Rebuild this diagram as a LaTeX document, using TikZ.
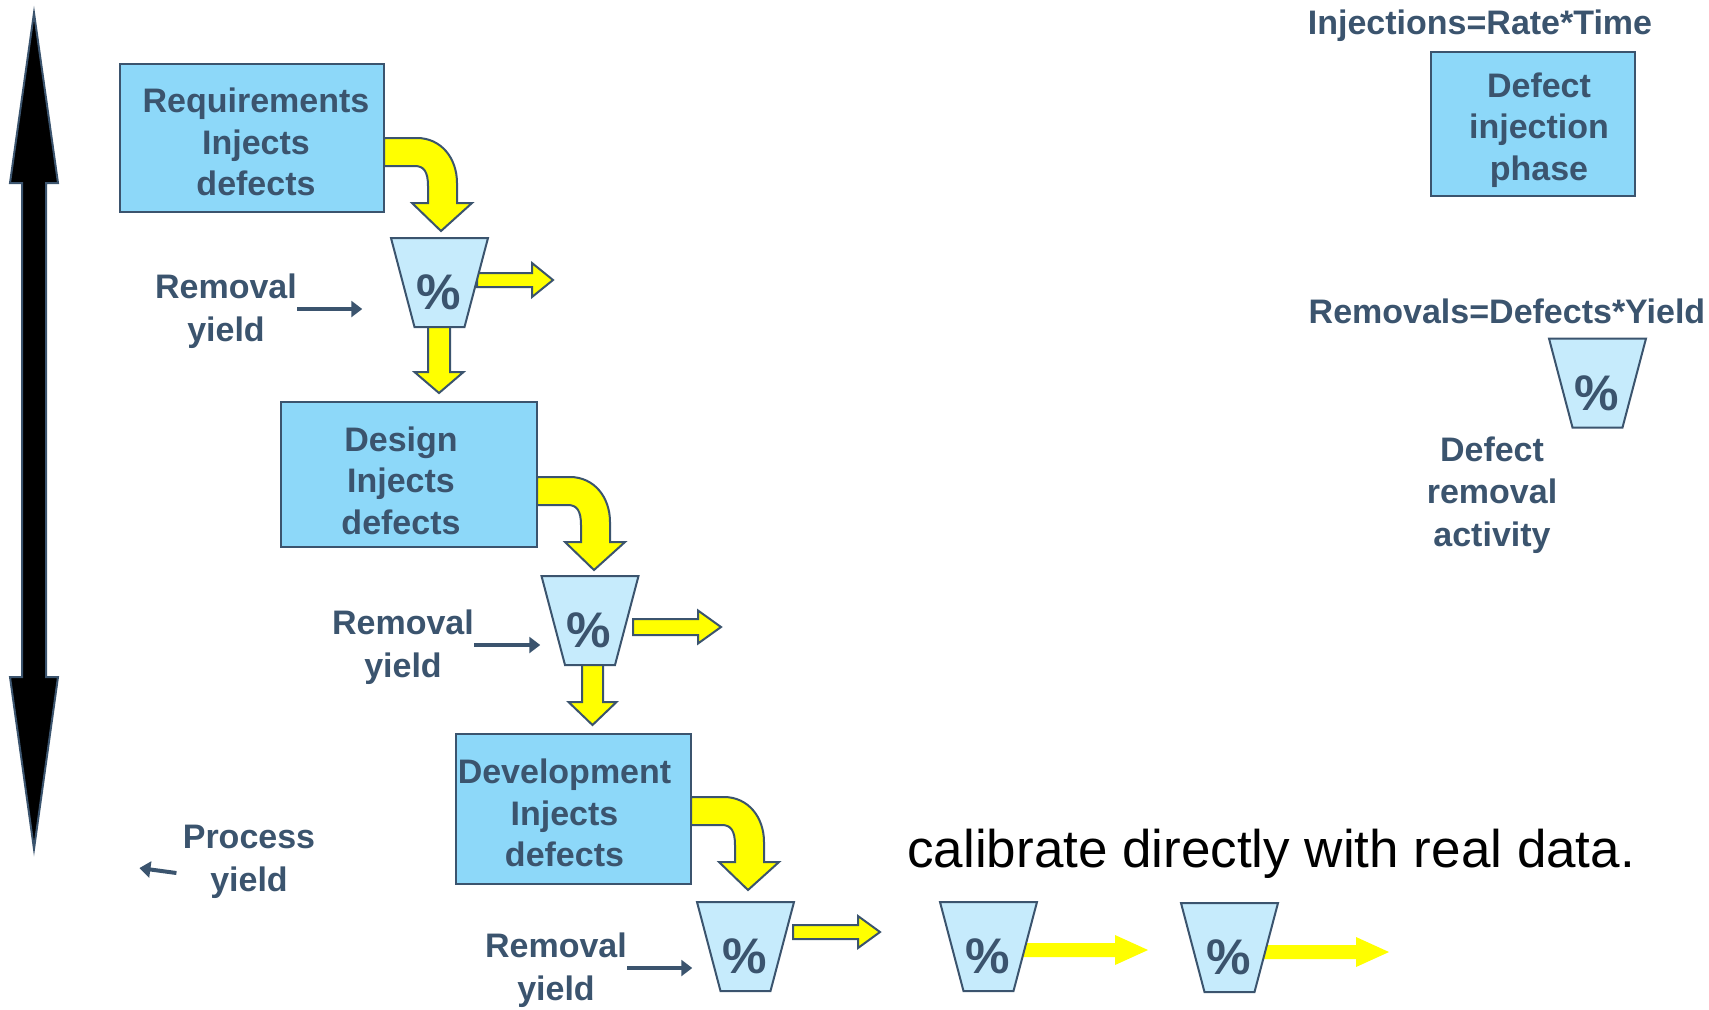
\documentclass[tikz,border=0pt]{standalone}
\usepackage{fontspec}
\setmainfont{Liberation Sans}
\usetikzlibrary{arrows.meta,calc}
\definecolor{slate}{RGB}{59,84,110}
\definecolor{boxblue}{RGB}{141,216,249}
\definecolor{funnelblue}{RGB}{198,235,252}
\definecolor{ayellow}{RGB}{255,255,0}
\tikzset{
  lbl/.style={font=\bfseries\fontsize{17}{21.25}\selectfont, text=slate, align=center, inner sep=0pt},
  boxtext/.style={font=\bfseries\fontsize{17}{20.75}\selectfont, text=slate, align=center, inner sep=0pt},
  phasebox/.style={draw=slate, line width=1.2pt, fill=boxblue, inner sep=0pt},
  pct/.style={font=\bfseries\fontsize{25}{25}\selectfont, text=slate, inner sep=0pt},
  funnelshape/.style={draw=slate, line width=1pt, fill=funnelblue, line join=miter},
  pics/funnel/.style={code={
    \path[funnelshape] (-48.5,-44.5) -- (48.5,-44.5) -- (25,44.5) -- (-25,44.5) -- cycle;
    \node[pct] (-c) at (-1,10) {\%};}},
  thinarr/.style={draw=slate, line width=2pt, -{Triangle[length=5.5pt,width=8pt]}},
  fatline/.style={draw=slate, line width=1pt, fill=ayellow, line join=miter},
  fatfill/.style={fill=ayellow},
  pics/bendarrow/.style={code={
    \path[fatline] (0,0) -- (33,0) .. controls (57,0) and (73,20) .. (73,45) -- (73,65) -- (88,65)
      -- (57,93) -- (28,65) -- (44,65) -- (44,48) .. controls (44,34) and (40,28) .. (31,28) -- (0,28) -- cycle;}},
  pics/rfat/.style args={#1/#2/#3/#4}{code={
    \path[pic actions] (0,-#2) -- ({#1-#4},-#2) -- ({#1-#4},-#3) -- (#1,0) -- ({#1-#4},#3) -- ({#1-#4},#2) -- (0,#2) -- cycle;}},
  pics/dfat/.style args={#1/#2/#3/#4}{code={
    \path[pic actions] (-#2,0) -- (-#2,{#1-#4}) -- (-#3,{#1-#4}) -- (0,#1) -- (#3,{#1-#4}) -- (#2,{#1-#4}) -- (#2,0) -- cycle;}}
}
\begin{document}
\begin{tikzpicture}[x=0.5pt,y=-0.5pt]
\useasboundingbox (0,0) rectangle (1709,1009);

% big double arrow
\path[draw=slate, fill=black, line width=1pt] (34,13) -- (58,183) -- (46,183) -- (46,677) -- (58,677)
  -- (34,849) -- (10,677) -- (22,677) -- (22,183) -- (10,183) -- cycle;

% bent arrows out of the phase boxes
\pic at (384,138) {bendarrow};
\pic at (537,477) {bendarrow};
\pic at (691,797) {bendarrow};

% straight block arrows
\pic[fatline] at (477,280) {rfat=76/7/17/21};
\pic[fatline] at (439,325) {dfat=68/11/24.5/21};
\pic[fatline] at (633,627) {rfat=88/8/16.5/23};
\pic[fatline] at (592.5,663) {dfat=62/10.5/24/23};
\pic[fatline] at (793,932) {rfat=87/7/16/22};
\pic[fatfill] at (1020,950) {rfat=128/7/15/33};
\pic[fatfill] at (1260,952) {rfat=129/7/15/33};

% phase boxes
\node[phasebox, minimum width=132pt, minimum height=74pt] (req) at (252,138) {};
\node[phasebox, minimum width=128pt, minimum height=72.5pt] (des) at (409,474.5) {};
\node[phasebox, minimum width=117.5pt, minimum height=75pt] (dev) at (573.5,809) {};
\node[phasebox, minimum width=102pt, minimum height=72pt] (leg) at (1533,124) {};
\node[boxtext] (req-t) at ($(req.center)+(4,4)$) {Requirements\\Injects\\defects};
\node[boxtext] (des-t) at ($(des.center)+(-8,6)$) {Design\\Injects\\defects};
\node[boxtext] (dev-t) at ($(dev.center)+(-9,4)$) {Development\\Injects\\defects};
\node[boxtext] (leg-t) at ($(leg.center)+(6,6)$) {Defect\\injection\\phase};

% funnels
\pic (f1) at (439.5,282.5) {funnel};
\pic (f2) at (590,620.5) {funnel};
\pic (f3) at (745.5,946.5) {funnel};
\pic (f4) at (988.5,946.5) {funnel};
\pic (f5) at (1229.5,947.5) {funnel};
\pic (f6) at (1597.5,383) {funnel};

% labels
\node[lbl] (rem1) at (226,311) {Removal\\yield};
\node[lbl] (rem2) at (403,647) {Removal\\yield};
\node[lbl] (rem3) at (556,970) {Removal\\yield};
\node[lbl] (proc) at (249,862) {Process\\yield};
\node[lbl] (act) at (1492,495) {Defect\\removal\\activity};
\node[lbl, anchor=base] (inj) at (1480,34) {Injections=Rate*Time};
\node[lbl, anchor=base] (rmf) at (1507,323) {Removals=Defects*Yield};
\node[anchor=base west, inner sep=0pt, font=\fontsize{26.5}{30}\selectfont] (cal) at (907,867) {calibrate directly with real data.};

% thin arrows
\draw[thinarr] ([yshift=1pt]rem1.east) -- ++(65,0);
\draw[thinarr] ([yshift=1pt]rem2.east) -- ++(66,0);
\draw[thinarr] ([yshift=1pt]rem3.east) -- ++(65,0);
\draw[thinarr] ($(proc.west)+(-6,11)$) -- ($(proc.west)+(-43,6)$);
\end{tikzpicture}
\end{document}
